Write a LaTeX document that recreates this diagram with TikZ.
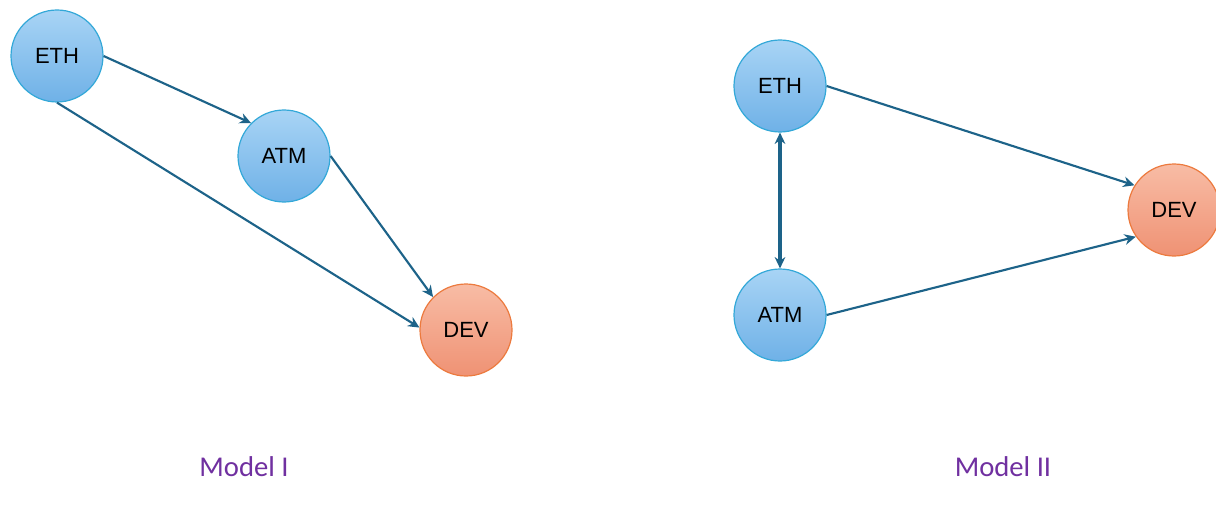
\documentclass[tikz,border=0pt]{standalone}
\usepackage{fontspec}
\setmainfont{Liberation Sans}
\newfontfamily\captionfont{Carlito}
\usetikzlibrary{arrows.meta}
\definecolor{bluetop}{HTML}{A8D4F5}
\definecolor{bluebot}{HTML}{6FB1E7}
\definecolor{blueedge}{HTML}{33A8D8}
\definecolor{orangetop}{HTML}{F8BCA5}
\definecolor{orangebot}{HTML}{EF9274}
\definecolor{orangeedge}{HTML}{EC7A3E}
\definecolor{linkcol}{HTML}{1D6389}
\definecolor{captioncol}{HTML}{7030A0}
\tikzset{
  var/.style={circle, minimum size=69pt, inner sep=0pt, line width=0.9pt,
    font=\fontsize{16.5}{19}\selectfont},
  cause/.style={var, draw=blueedge, top color=bluetop, bottom color=bluebot},
  outcome/.style={var, draw=orangeedge, top color=orangetop, bottom color=orangebot},
  link/.style={draw=linkcol, line width=1.6pt, -{Stealth[length=8.5pt,width=8pt]}},
  both/.style={draw=linkcol, line width=2.4pt, {Stealth[length=8.5pt,width=8pt]}-{Stealth[length=8.5pt,width=8pt]}},
  caption/.style={font=\captionfont\fontsize{21.5}{25}\selectfont, text=captioncol}
}
\begin{document}
\begin{tikzpicture}[x=0.75pt,y=-0.75pt]
  \useasboundingbox (0,0) rectangle (1216,506);
  % Model I
  \node[cause]   (eth1) at (57,56)   {ETH};
  \node[cause]   (atm1) at (284,156) {ATM};
  \node[outcome] (dev1) at (466,330) {DEV};
  \draw[link] (eth1.east) -- (atm1.north west);
  \draw[link] (eth1.south) -- (dev1.177);
  \draw[link] (atm1.east) -- (dev1.north west);
  \node[caption] (cap1) at (244,467) {Model I};
  % Model II
  \node[cause]   (eth2) at (780,86)   {ETH};
  \node[cause]   (atm2) at (780,315)  {ATM};
  \node[outcome] (dev2) at (1174,210) {DEV};
  \draw[link] (eth2.east) -- (dev2.148);
  \draw[link] (atm2.east) -- (dev2.215);
  \draw[both] (eth2.south) -- (atm2.north);
  \node[caption] (cap2) at (1003,467) {Model II};
\end{tikzpicture}
\end{document}
